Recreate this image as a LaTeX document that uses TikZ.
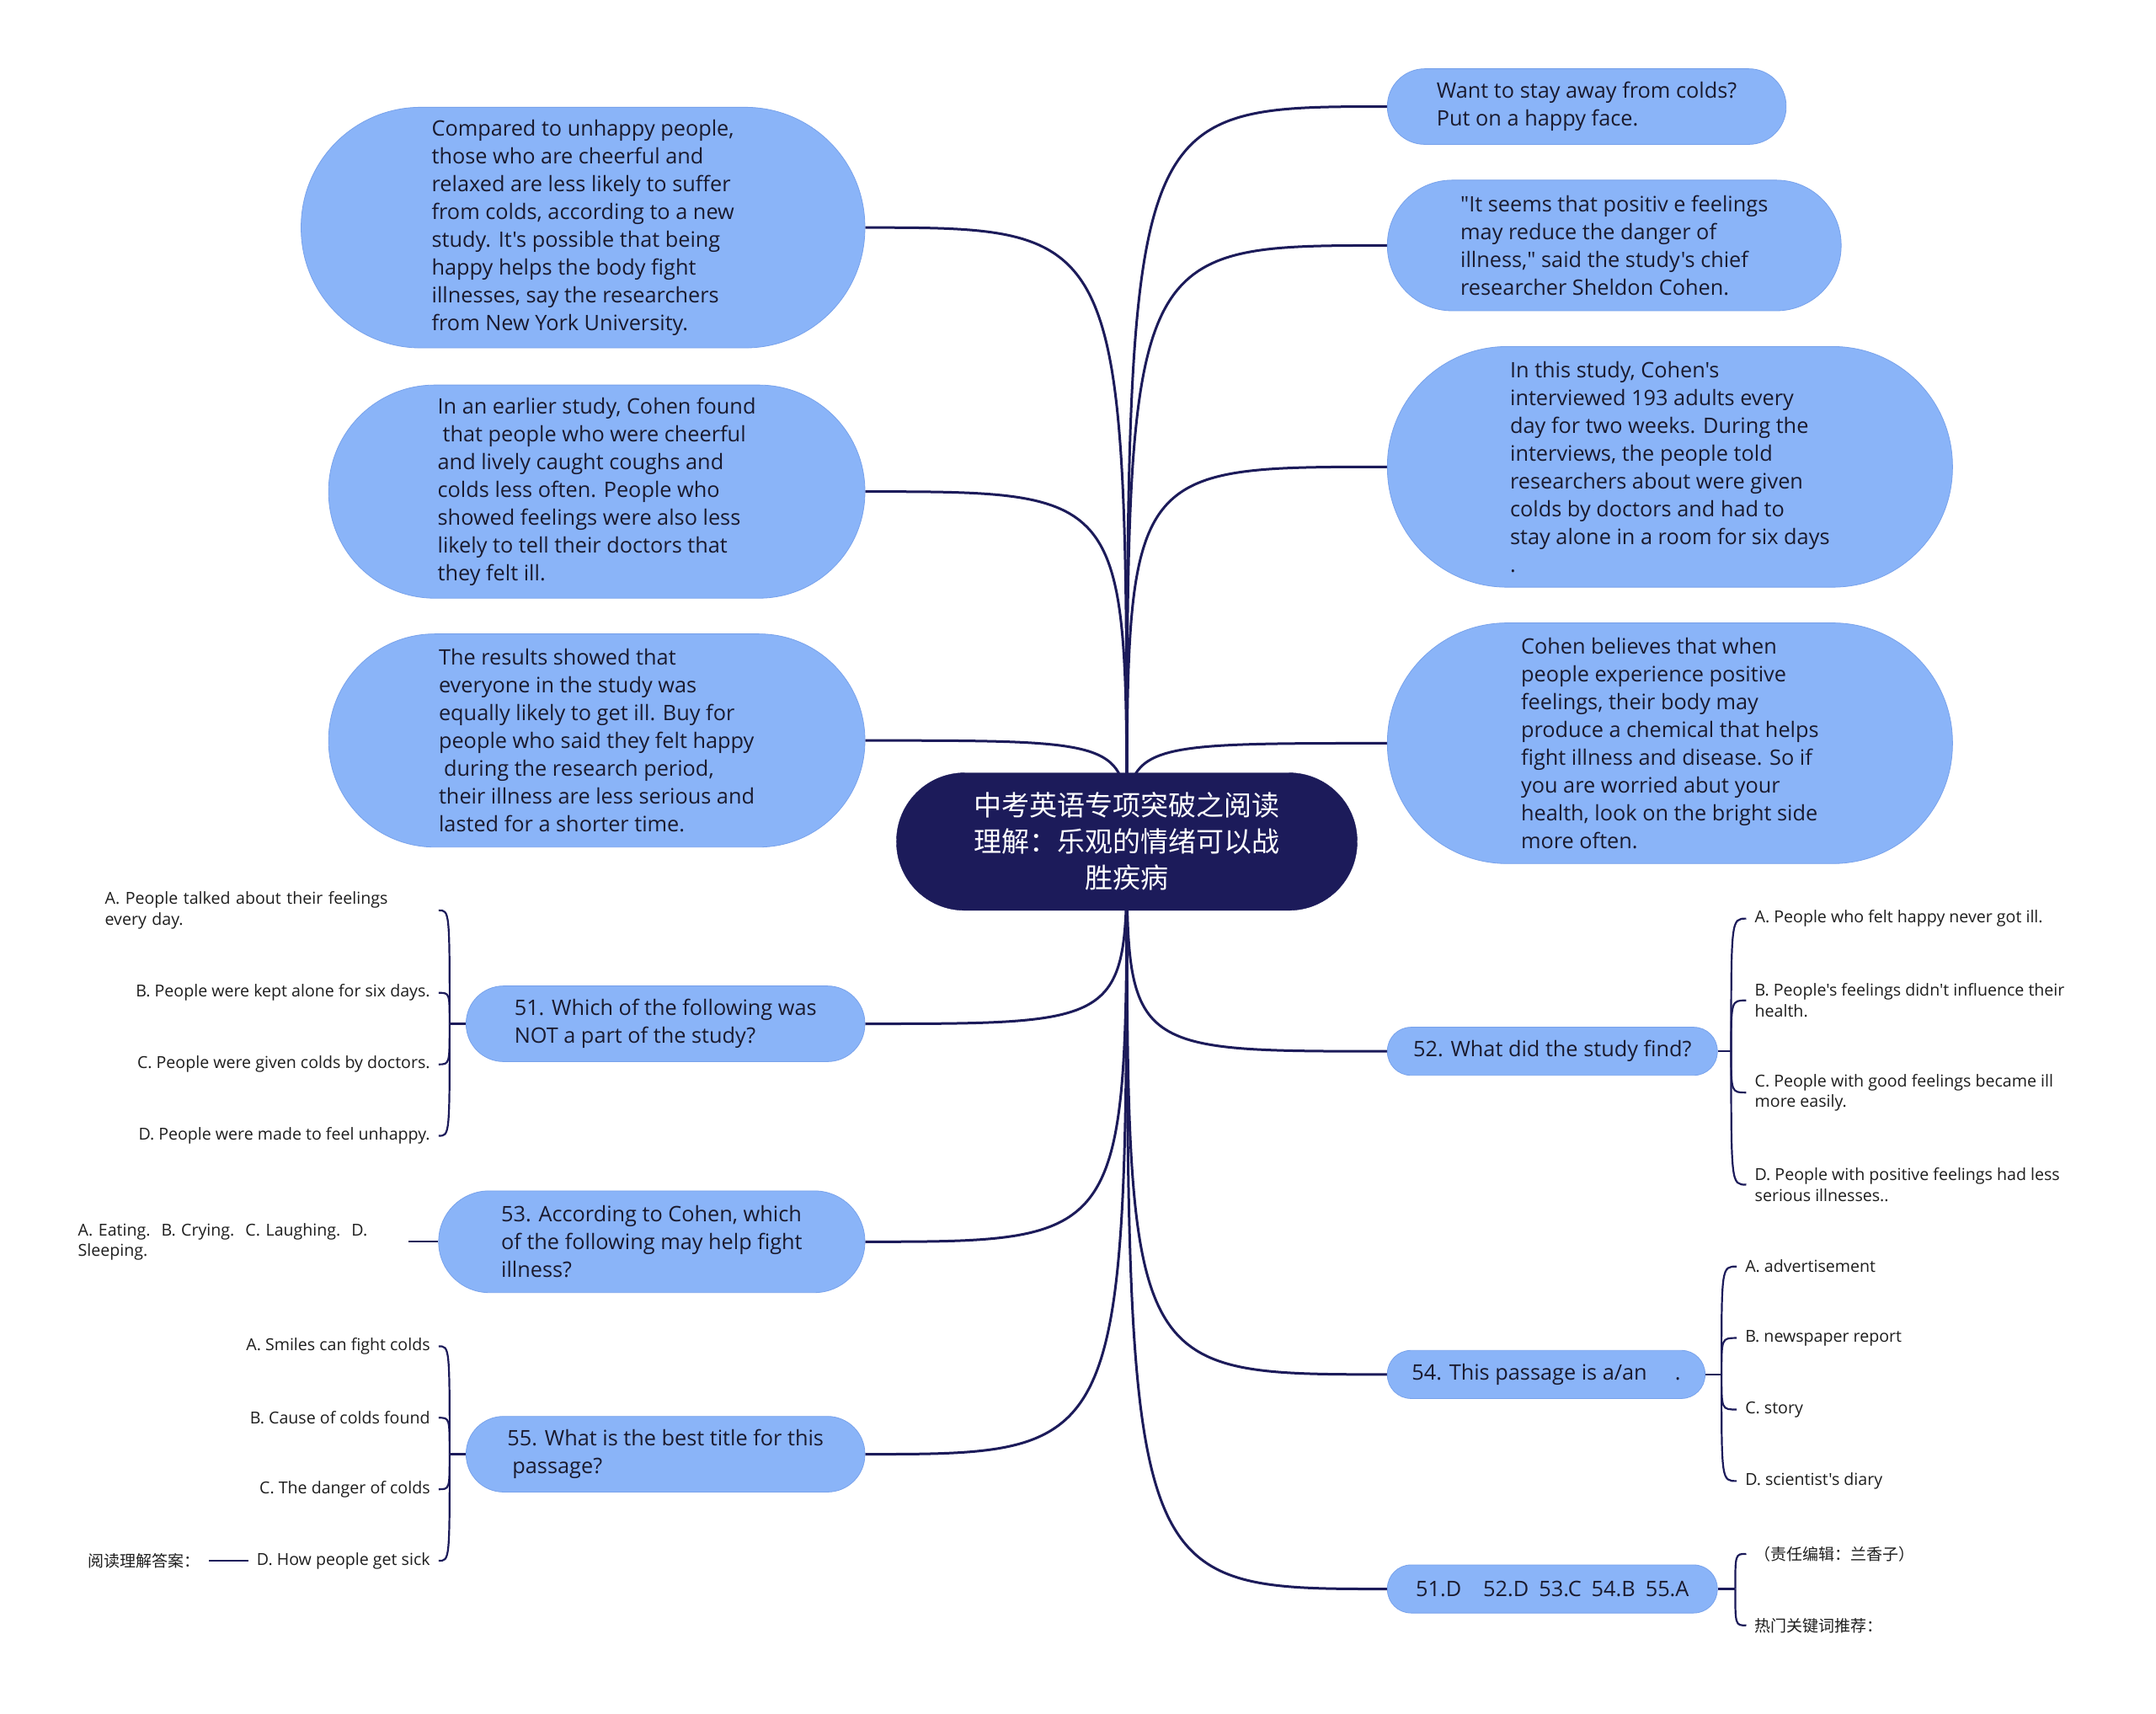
\documentclass[tikz,border=0pt]{standalone}
\usepackage{fontspec}
\newfontfamily\lat{Open Sans}
\newfontfamily\cjk{Noto Sans CJK SC}
\usetikzlibrary{calc}
\definecolor{navy}{RGB}{28,27,90}
\definecolor{nblue}{RGB}{138,180,248}
\definecolor{nborder}{RGB}{120,162,235}
\definecolor{txt}{RGB}{26,26,46}
\definecolor{otxt}{RGB}{30,30,30}
\pgfdeclarelayer{bgwhite}
\pgfdeclarelayer{lines}
\pgfsetlayers{bgwhite,lines,main}
\tikzset{
  conn/.style={draw=navy, line width=3pt},
  brk/.style={draw=navy, line width=2.2pt},
  topic/.style={fill=nblue, draw=nborder, line width=0.8pt, text=txt,
    font=\lat\fontsize{25.3}{33}\selectfont, align=left, inner sep=0pt},
  rootbox/.style={fill=navy, draw=navy, text=white,
    font=\cjk\fontsize{33}{43}\selectfont, align=center, inner sep=0pt},
  opt/.style={font=\lat\fontsize{19.6}{24.5}\selectfont, text=otxt,
    inner xsep=10pt, inner ysep=2pt},
  copt/.style={font=\cjk\fontsize{19}{24.5}\selectfont, text=otxt,
    inner xsep=10pt, inner ysep=2pt},
}
\begin{document}
\begin{tikzpicture}[x=1.6327pt,y=-1.6327pt]
\useasboundingbox (0,0) rectangle (1568,1246);
\begin{pgfonlayer}{bgwhite}
\fill[white] (0,0) rectangle (1568,1246);
\end{pgfonlayer}

% root
\node[rootbox, minimum width=547pt, minimum height=163.3pt, rounded corners=81pt] (root) at (819.5,612)
  {中考英语专项突破之阅读\\理解：乐观的情绪可以战\\胜疾病};

% left topics
\node[topic, minimum width=669.4pt, minimum height=285.7pt, rounded corners=142pt] (L1) at (424,165.5)
  {Compared to unhappy people,\\those who are cheerful and\\relaxed are less likely to suffer\\from colds, according to a new\\study. It's possible that being\\happy helps the body fight\\illnesses, say the researchers\\from New York University.};
\node[topic, minimum width=636.8pt, minimum height=253.1pt, rounded corners=126pt] (L2) at (434,357.5)
  {In an earlier study, Cohen found\\\hspace*{6pt}that people who were cheerful\\and lively caught coughs and\\colds less often. People who\\showed feelings were also less\\likely to tell their doctors that\\they felt ill.};
\node[topic, minimum width=636.8pt, minimum height=253.1pt, rounded corners=126pt] (L3) at (434,538.5)
  {The results showed that\\everyone in the study was\\equally likely to get ill. Buy for\\people who said they felt happy\\\hspace*{6pt}during the research period,\\their illness are less serious and\\lasted for a shorter time.};

% right topics
\node[topic, minimum width=473.5pt, minimum height=89.8pt, rounded corners=44.5pt] (R1) at (1154,77.5)
  {Want to stay away from colds?\\Put on a happy face.};
\node[topic, minimum width=538.8pt, minimum height=155.1pt, rounded corners=77pt] (R2) at (1174,178.5)
  {"It seems that positiv e feelings\\may reduce the danger of\\illness," said the study's chief\\researcher Sheldon Cohen.};
\node[topic, minimum width=671pt, minimum height=285.7pt, rounded corners=142pt] (R3) at (1214.5,339.5)
  {In this study, Cohen's\\interviewed 193 adults every\\day for two weeks. During the\\interviews, the people told\\researchers about were given\\colds by doctors and had to\\stay alone in a room for six days\\.};
\node[topic, minimum width=671pt, minimum height=285.7pt, rounded corners=142pt] (R4) at (1214.5,540.5)
  {Cohen believes that when\\people experience positive\\feelings, their body may\\produce a chemical that helps\\fight illness and disease. So if\\you are worried abut your\\health, look on the bright side\\more often.};

% questions left
\node[topic, minimum width=473.5pt, minimum height=89.8pt, rounded corners=44.5pt] (Q51) at (484,744.5)
  {51. Which of the following was\\NOT a part of the study?};
\node[topic, minimum width=506.1pt, minimum height=120.8pt, rounded corners=60pt] (Q53) at (474,903)
  {53. According to Cohen, which\\of the following may help fight\\illness?};
\node[topic, minimum width=473.5pt, minimum height=89.8pt, rounded corners=44.5pt] (Q55) at (484,1057.5)
  {55. What is the best title for this\\\hspace*{6pt}passage?};

% questions right
\node[topic, minimum width=391.8pt, minimum height=57.1pt, rounded corners=28pt] (Q52) at (1129,764.5)
  {52. What did the study find?};
\node[topic, minimum width=377.2pt, minimum height=57.1pt, rounded corners=28pt] (Q54) at (1124.5,999.5)
  {54. This passage is a/an\hspace{33pt}.};
\node[topic, minimum width=391.8pt, minimum height=57.1pt, rounded corners=28pt] (Ans) at (1129,1155.5)
  {51.D\hspace{26pt}52.D\hspace{12pt}53.C\hspace{12pt}54.B\hspace{12pt}55.A};

% options of 51
\node[opt, anchor=east, text width=386pt, align=left] (o51a) at (319,662)
  {A. People talked about their feelings\\every day.};
\node[opt, anchor=east, align=right] (o51b) at (319,722) {B. People were kept alone for six days.};
\node[opt, anchor=east, align=right] (o51c) at (319,774) {C. People were given colds by doctors.};
\node[opt, anchor=east, align=right] (o51d) at (319,826) {D. People were made to feel unhappy.};
\coordinate (j51) at (327,744.5);

% option of 53
\node[opt, anchor=east, text width=382pt, align=left] (o53) at (297,903)
  {A. Eating.\ \ B. Crying.\ \ C. Laughing.\ \ D.\\Sleeping.};

% options of 55
\node[opt, anchor=east, align=right] (o55a) at (319,979) {A. Smiles can fight colds};
\node[opt, anchor=east, align=right] (o55b) at (319,1031) {B. Cause of colds found};
\node[opt, anchor=east, align=right] (o55c) at (319,1083) {C. The danger of colds};
\node[opt, anchor=east, align=right] (o55d) at (319,1135) {D. How people get sick};
\node[copt, anchor=east] (ansl) at (152,1135) {阅读理解答案：};
\coordinate (j55) at (327,1057.5);

% options of 52
\node[opt, anchor=west, align=left] (o52a) at (1270,668) {A. People who felt happy never got ill.};
\node[opt, anchor=west, align=left] (o52b) at (1270,727.5) {B. People's feelings didn't influence their\\health.};
\node[opt, anchor=west, align=left] (o52c) at (1270,794.5) {C. People with good feelings became ill\\more easily.};
\node[opt, anchor=west, align=left] (o52d) at (1270,861.5) {D. People with positive feelings had less\\serious illnesses..};
\coordinate (j52) at (1259,764.5);

% options of 54
\node[opt, anchor=west] (o54a) at (1263,921) {A. advertisement};
\node[opt, anchor=west] (o54b) at (1263,973) {B. newspaper report};
\node[opt, anchor=west] (o54c) at (1263,1025) {C. story};
\node[opt, anchor=west] (o54d) at (1263,1077) {D. scientist's diary};
\coordinate (j54) at (1252,999.5);

% answers children
\node[copt, anchor=west] (ansa) at (1270,1130) {（责任编辑：兰香子）};
\node[copt, anchor=west] (ansb) at (1270,1182) {热门关键词推荐：};
\coordinate (jans) at (1262,1155.5);

\begin{pgfonlayer}{lines}
% main connectors
\foreach \c/\a in {L1/east,L2/east,L3/east,Q51/east,Q53/east,Q55/east,R1/west,R2/west,R3/west,R4/west,Q52/west,Q54/west,Ans/west}
  \draw[conn] (root.center) .. controls (root.center |- \c.\a) .. (\c.\a);
% brackets
\draw[brk] (Q51.west) -- (j51);
\foreach \c in {o51a,o51b,o51c,o51d}
  \draw[brk] (j51) .. controls (j51 |- \c.east) .. (\c.east);
\draw[brk] (Q55.west) -- (j55);
\foreach \c in {o55a,o55b,o55c,o55d}
  \draw[brk] (j55) .. controls (j55 |- \c.east) .. (\c.east);
\draw[brk] (Q53.west) -- (o53.east);
\draw[brk] (o55d.west) -- (ansl.east);
\draw[brk] (Q52.east) -- (j52);
\foreach \c in {o52a,o52b,o52c,o52d}
  \draw[brk] (j52) .. controls (j52 |- \c.west) .. (\c.west);
\draw[brk] (Q54.east) -- (j54);
\foreach \c in {o54a,o54b,o54c,o54d}
  \draw[brk] (j54) .. controls (j54 |- \c.west) .. (\c.west);
\draw[brk] (Ans.east) -- (jans);
\foreach \c in {ansa,ansb}
  \draw[brk] (jans) .. controls (jans |- \c.west) .. (\c.west);
\end{pgfonlayer}
\end{tikzpicture}
\end{document}
